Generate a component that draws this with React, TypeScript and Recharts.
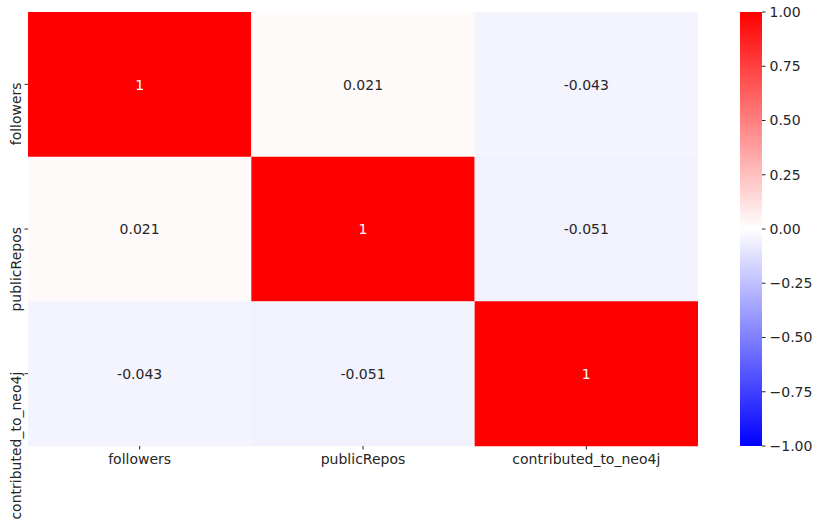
import React from 'react';
import {
  BarChart,
  Bar,
  Cell,
  LabelList,
  XAxis,
  YAxis,
} from 'recharts';

const columns = ['followers', 'publicRepos', 'contributed_to_neo4j'];
const rowNames = ['followers', 'publicRepos', 'contributed_to_neo4j'];

// correlation matrix, one row per variable
const followersCorr = [1, 0.021, -0.043];
const publicReposCorr = [0.021, 1, -0.051];
const contributedCorr = [-0.043, -0.051, 1];

const colorbarTicks = [-1, -0.75, -0.5, -0.25, 0, 0.25, 0.5, 0.75, 1];

const matrix = [followersCorr, publicReposCorr, contributedCorr];

// every cell is one unit wide, coloured by its correlation
const table = rowNames.map((name, i) => {
  const row: Record<string, string | number> = { row: name };
  columns.forEach((_, j) => {
    row[`c${j}`] = 1;
    row[`v${j}`] = matrix[i][j];
  });
  return row;
});

const colorbarData = [{ name: 'scale', range: [-1, 1] }];

// matplotlib "bwr": blue -> white -> red
function bwr(v: number) {
  if (v >= 0) {
    const g = Math.round(255 * (1 - v));
    return `rgb(255,${g},${g})`;
  }
  const r = Math.round(255 * (1 + v));
  return `rgb(${r},${r},255)`;
}

const TEXT = '#262626';

function CellLabel(props: any) {
  const { x, y, width, height, value } = props;
  return (
    <text
      x={x + width / 2}
      y={y + height / 2}
      textAnchor="middle"
      dominantBaseline="central"
      fontSize={14}
      fill={Math.abs(value) > 0.5 ? '#ffffff' : TEXT}
    >
      {value}
    </text>
  );
}

function RowTick(props: any) {
  const { x, y, payload } = props;
  return (
    <g transform={`translate(${x - 3.5},${y})`}>
      <text
        transform="rotate(-90)"
        x={2}
        y={0}
        textAnchor="end"
        fontSize={14}
        fill={TEXT}
      >
        {payload.value}
      </text>
    </g>
  );
}

const fmtBar = (v: number) =>
  (v < 0 ? '\u2212' : '') + Math.abs(v).toFixed(2);

export default function App() {
  return (
    <div
      style={{
        position: 'absolute',
        left: 0,
        top: 0,
        width: 818,
        height: 524,
        background: '#fff',
        fontFamily: '"DejaVu Sans", sans-serif',
      }}
    >
      <div style={{ position: 'absolute', left: 0, top: 0 }}>
        <BarChart
          width={720}
          height={524}
          data={table}
          layout="vertical"
          barCategoryGap={0}
          margin={{ top: 12, right: 22, bottom: 0, left: 0 }}
        >
          <XAxis
            type="number"
            domain={[0, 3]}
            ticks={[0.5, 1.5, 2.5]}
            tickFormatter={(v: number) => columns[Math.floor(v)]}
            axisLine={false}
            tickLine={{ stroke: TEXT }}
            tickSize={3.5}
            tickMargin={5}
            height={78}
            interval={0}
            tick={{ fill: TEXT, fontSize: 14 }}
          />
          <YAxis
            type="category"
            dataKey="row"
            width={28}
            axisLine={false}
            tickLine={{ stroke: TEXT }}
            tickSize={3.5}
            tickMargin={0}
            interval={0}
            tick={<RowTick />}
          />
          {columns.map((col, j) => (
            <Bar
              key={col}
              dataKey={`c${j}`}
              stackId="m"
              isAnimationActive={false}
            >
              {table.map((d, i) => (
                <Cell key={i} fill={bwr(d[`v${j}`] as number)} />
              ))}
              <LabelList dataKey={`v${j}`} content={<CellLabel />} />
            </Bar>
          ))}
        </BarChart>
      </div>
      <div style={{ position: 'absolute', left: 700, top: 0 }}>
        <BarChart
          width={118}
          height={524}
          data={colorbarData}
          barCategoryGap={0}
          margin={{ top: 12, right: 0, bottom: 78, left: 40 }}
        >
          <defs>
            <linearGradient id="bwr" x1="0" y1="0" x2="0" y2="1">
              <stop offset="0%" stopColor="#ff0000" />
              <stop offset="50%" stopColor="#ffffff" />
              <stop offset="100%" stopColor="#0000ff" />
            </linearGradient>
          </defs>
          <XAxis dataKey="name" hide />
          <YAxis
            orientation="right"
            type="number"
            domain={[-1, 1]}
            ticks={colorbarTicks}
            tickFormatter={fmtBar}
            width={56}
            axisLine={false}
            tickLine={{ stroke: TEXT }}
            tickSize={3.5}
            tickMargin={4}
            interval={0}
            tick={{ fill: TEXT, fontSize: 14 }}
          />
          <Bar dataKey="range" fill="url(#bwr)" isAnimationActive={false} />
        </BarChart>
      </div>
    </div>
  );
}
